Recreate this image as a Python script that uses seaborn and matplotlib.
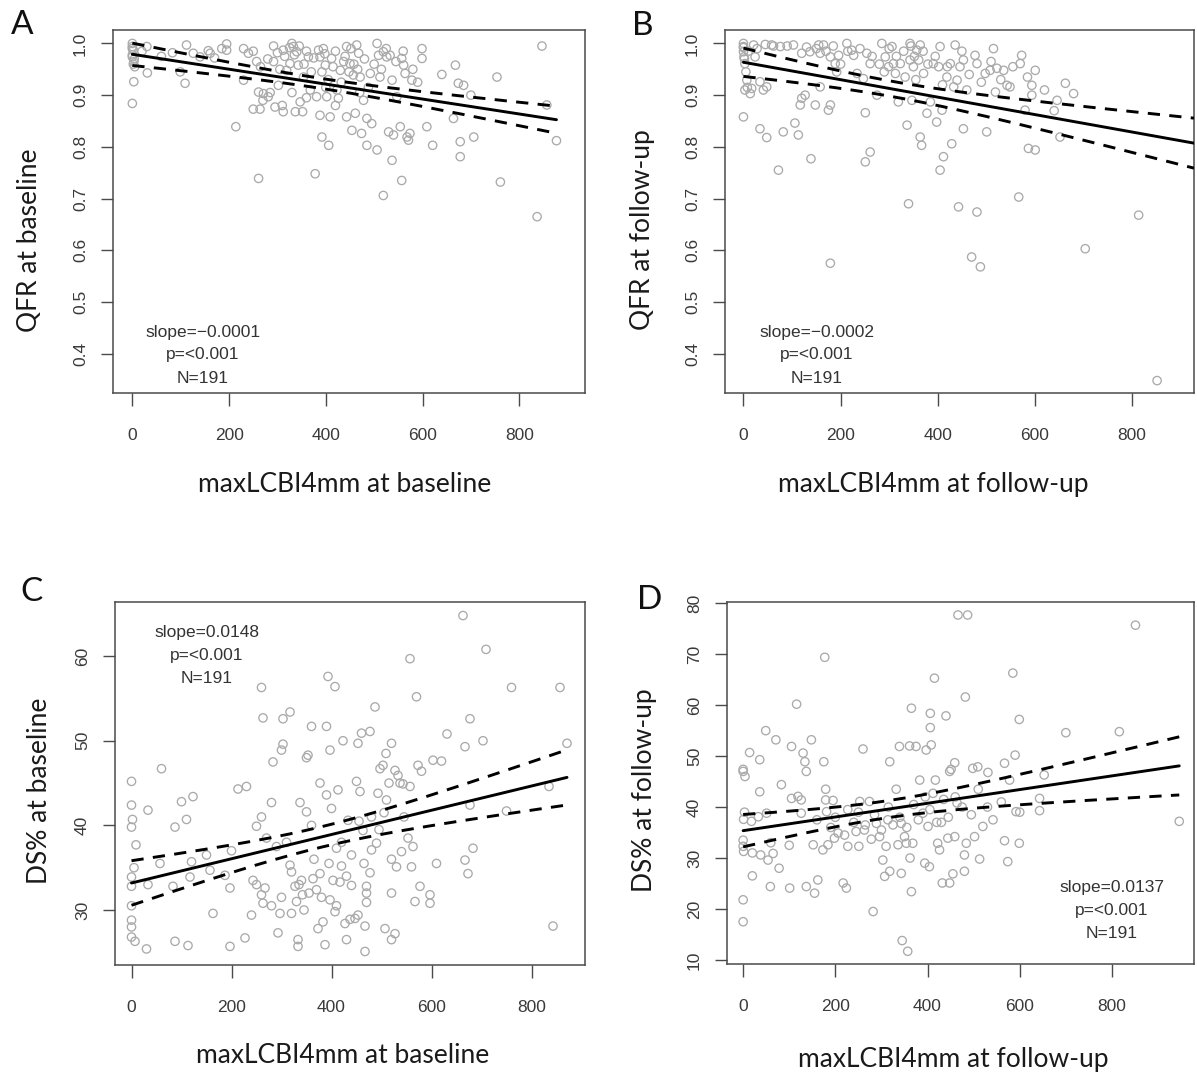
import numpy as np
import matplotlib
matplotlib.use("Agg")
import matplotlib.pyplot as plt
import seaborn as sns

# ---------------- data ----------------
# Panel A: maxLCBI4mm at baseline vs QFR at baseline
a_x = [0, 0, 2, 0, 3, 5, 3, 0, 30, 31, 83, 99, 109, 112, 126, 140, 157, 161, 195, 195,
       214, 230, 230, 240, 257, 261, 250, 264, 261, 271, 281, 292, 292, 295, 302, 312, 312,
       319, 326, 330, 333, 337, 340, 343, 347, 352, 354, 364, 368, 378, 381, 385, 388, 392,
       388, 392, 395, 399, 402, 406, 409, 412, 423, 426, 430, 437, 443, 443, 450, 454, 457,
       461, 464, 468, 471, 474, 478, 485, 485, 492, 495, 506, 506, 509, 512, 519, 519, 526,
       530, 533, 537, 537, 540, 547, 554, 557, 557, 561, 564, 568, 571, 574, 578, 599, 599,
       609, 621, 664, 668, 674, 678, 678, 685, 706, 754, 761, 837, 847, 857, 877,
       # overlapping circles in the dense areas
       0, 0, 4, 2, 20, 60, 170, 185, 250, 265, 280, 300, 305, 315, 325, 335, 345, 355, 360,
       370, 375, 398, 405, 415, 420, 432, 440, 448, 452, 458, 466, 480, 488, 500, 515, 525,
       545, 560, 580, 590, 640, 700, 270, 285, 310, 330, 360, 400, 420, 470]
a_y = [1.000, 0.994, 0.987, 0.974, 0.965, 0.955, 0.926, 0.884, 0.994, 0.943, 0.982, 0.945,
       0.923, 0.997, 0.981, 0.974, 0.986, 0.981, 0.999, 0.987, 0.839, 0.990, 0.929, 0.981,
       0.965, 0.739, 0.873, 0.873, 0.906, 0.903, 0.897, 0.995, 0.965, 0.877, 0.919, 0.987,
       0.868, 0.948, 0.961, 1.000, 0.994, 0.868, 0.984, 0.958, 0.887, 0.868, 0.935, 0.974,
       0.910, 0.748, 0.897, 0.987, 0.974, 0.945, 0.861, 0.819, 0.990, 0.958, 0.897, 0.803,
       0.858, 0.971, 0.910, 0.894, 0.948, 0.965, 0.994, 0.858, 0.961, 0.832, 0.939, 0.865,
       0.997, 0.981, 0.935, 0.826, 0.890, 0.855, 0.803, 0.942, 0.845, 1.000, 0.794, 0.977,
       0.935, 0.706, 0.984, 0.974, 0.829, 0.977, 0.929, 0.774, 0.823, 0.897, 0.839, 0.971,
       0.735, 0.958, 0.942, 0.819, 0.813, 0.826, 0.929, 0.990, 0.971, 0.839, 0.803, 0.855,
       0.958, 0.923, 0.781, 0.810, 0.919, 0.819, 0.935, 0.732, 0.665, 0.995, 0.881, 0.812,
       0.990, 0.978, 0.970, 0.960, 0.985, 0.975, 0.972, 0.990, 0.985, 0.955, 0.970, 0.982,
       0.950, 0.975, 0.992, 0.978, 0.995, 0.960, 0.985, 0.945, 0.972, 0.980, 0.930, 0.955,
       0.985, 0.925, 0.975, 0.945, 0.990, 0.960, 0.950, 0.970, 0.915, 0.960, 0.950, 0.990,
       0.965, 0.985, 0.950, 0.925, 0.940, 0.900, 0.890, 0.905, 0.880, 0.905, 0.895, 0.915,
       0.880, 0.905]

# Panel B: maxLCBI4mm at follow-up vs QFR at follow-up
b_x = [0, 0, 0, 1, 3, 7, 3, 14, 0, 17, 21, 24, 34, 41, 48, 34, 48, 58, 62, 72, 76, 82,
       103, 106, 113, 117, 120, 127, 120, 137, 139, 148, 155, 158, 158, 165, 175, 179, 179,
       179, 189, 196, 192, 213, 223, 227, 234, 247, 251, 251, 261, 254, 261, 275, 285, 292,
       299, 306, 309, 313, 319, 323, 333, 337, 340, 343, 343, 347, 350, 357, 361, 364, 364,
       367, 371, 378, 385, 391, 398, 402, 405, 405, 409, 412, 419, 426, 429, 433, 436, 440,
       443, 446, 453, 453, 460, 470, 477, 481, 481, 488, 498, 501, 508, 515, 519, 522, 536,
       543, 549, 567, 570, 573, 580, 587, 601, 601, 594, 594, 646, 652, 663, 680, 704, 814,
       852,
       0, 2, 5, 8, 10, 28, 45, 90, 130, 150, 170, 185, 200, 215, 240, 265, 280, 290, 300,
       315, 330, 345, 352, 355, 370, 380, 395, 410, 420, 450, 465, 490, 510, 530, 555, 585,
       620, 640]
b_y = [1.000, 0.994, 0.984, 0.974, 0.961, 0.929, 0.910, 0.903, 0.858, 0.913, 0.997, 0.974,
       0.926, 0.910, 0.916, 0.835, 0.818, 0.997, 0.995, 0.755, 0.994, 0.829, 0.997, 0.846,
       0.823, 0.881, 0.894, 0.900, 0.981, 0.984, 0.777, 0.881, 0.997, 0.981, 0.916, 0.997,
       0.871, 0.881, 0.575, 0.974, 0.961, 0.977, 0.945, 1.000, 0.987, 0.977, 0.942, 0.932,
       0.866, 0.771, 0.790, 0.981, 0.961, 0.900, 1.000, 0.974, 0.955, 0.994, 0.961, 0.942,
       0.887, 0.961, 0.935, 0.842, 0.690, 0.968, 1.000, 0.890, 0.955, 0.987, 0.968, 0.997,
       0.819, 0.803, 0.942, 0.865, 0.887, 0.961, 0.848, 0.955, 0.994, 0.755, 0.871, 0.781,
       0.935, 0.961, 0.806, 0.916, 0.997, 0.929, 0.684, 0.955, 0.968, 0.835, 0.910, 0.587,
       0.977, 0.961, 0.674, 0.568, 0.942, 0.829, 0.948, 0.990, 0.906, 0.952, 0.948, 0.919,
       0.916, 0.703, 0.961, 0.977, 0.871, 0.797, 0.948, 0.794, 0.919, 0.900, 0.890, 0.819,
       0.923, 0.903, 0.603, 0.668, 0.348,
       0.992, 0.970, 0.945, 0.915, 0.985, 0.990, 0.998, 0.995, 0.993, 0.990, 0.985, 0.995,
       0.960, 0.985, 0.990, 0.975, 0.960, 0.945, 0.990, 0.975, 0.985, 0.995, 0.975, 0.930,
       0.985, 0.960, 0.975, 0.920, 0.955, 0.985, 0.940, 0.925, 0.965, 0.930, 0.955, 0.935,
       0.910, 0.870]

# Panel C: maxLCBI4mm at baseline vs DS% at baseline
c_x = [0, 0, 2, 0, 9, 0, 0, 0, 0, 0, 7, 30, 33, 33, 57, 60, 83, 87, 87, 100, 110, 113,
       123, 120, 117, 157, 163, 187, 197, 197, 213, 230, 227, 240, 243, 250, 260, 260, 263,
       260, 263, 267, 270, 280, 283, 290, 293, 297, 300, 303, 303, 317, 317, 320, 327, 330,
       333, 333, 337, 340, 342, 350, 350, 353, 360, 363, 370, 373, 377, 377, 383, 387, 390,
       390, 393, 397, 397, 400, 403, 407, 407, 410, 413, 417, 420, 423, 427, 430, 433, 437,
       440, 447, 450, 453, 453, 457, 460, 463, 467, 467, 470, 470, 470, 477, 477, 480, 487,
       490, 493, 497, 503, 507, 509, 510, 520, 520, 520, 527, 527, 530, 533, 537, 540, 543,
       553, 557, 557, 560, 563, 567, 570, 573, 577, 580, 597, 597, 603, 610, 620, 631, 663,
       667, 667, 673, 677, 677, 683, 703, 709, 750, 760, 835, 843, 857, 871,
       5, 0, 250, 280, 300, 320, 335, 345, 355, 365, 380, 395, 410, 420, 430, 440, 455, 465,
       480, 495, 505, 515, 545, 360, 310, 200, 150, 520]
c_y = [45.2, 42.4, 40.7, 39.8, 37.7, 33.9, 32.8, 28.8, 28.0, 26.8, 26.3, 25.4, 41.8, 33.0,
       35.5, 46.7, 32.8, 39.8, 26.3, 42.8, 40.7, 25.8, 43.4, 35.7, 33.9, 34.7, 29.6, 34.1,
       32.6, 25.7, 44.3, 44.6, 26.7, 29.4, 33.5, 39.9, 56.3, 41.0, 52.7, 31.8, 30.8, 32.6,
       38.5, 42.7, 47.5, 37.5, 27.3, 29.6, 48.9, 49.6, 52.6, 53.4, 35.3, 29.6, 32.8, 31.0,
       26.5, 25.7, 42.7, 33.5, 31.8, 41.6, 48.0, 48.3, 51.7, 33.7, 32.4, 27.8, 45.0, 34.3,
       28.6, 25.9, 51.7, 43.6, 57.6, 48.9, 31.2, 42.0, 33.5, 56.4, 29.8, 37.3, 44.2, 33.3,
       35.2, 50.0, 28.4, 26.5, 40.6, 28.9, 32.9, 29.0, 45.2, 49.7, 29.4, 44.0, 50.9, 39.4,
       28.1, 25.1, 32.8, 32.0, 30.9, 51.1, 34.4, 37.1, 54.0, 37.9, 43.8, 46.7, 47.1, 27.8,
       48.5, 43.0, 49.7, 32.0, 26.5, 46.5, 27.2, 35.1, 45.9, 45.0, 36.9, 44.9, 38.5, 59.7,
       44.6, 35.1, 37.5, 31.0, 55.2, 47.1, 32.8, 46.4, 31.8, 30.8, 47.7, 35.5, 47.6, 50.8,
       64.8, 49.3, 35.9, 34.3, 52.6, 42.4, 37.3, 50.0, 60.8, 41.7, 56.3, 44.6, 28.1, 56.3,
       49.7,
       35.0, 30.5, 33.0, 30.5, 31.5, 34.5, 33.0, 30.0, 32.0, 36.0, 31.5, 35.5, 30.5, 38.0,
       34.0, 36.5, 40.5, 35.5, 41.0, 39.5, 41.5, 45.0, 41.0, 40.0, 38.0, 37.0, 36.5, 36.0]

# Panel D: maxLCBI4mm at follow-up vs DS% at follow-up
d_x = [0, 4, 0, 1, 0, 1, 0, 0, 14, 18, 20, 33, 36, 36, 38, 49, 51, 54, 59, 65, 71, 78, 83,
       101, 105, 105, 116, 119, 126, 126, 130, 134, 137, 137, 148, 152, 155, 162, 173, 175,
       177, 179, 179, 181, 184, 195, 198, 206, 217, 224, 227, 227, 245, 253, 251, 260, 263,
       274, 278, 282, 289, 296, 303, 307, 310, 314, 318, 318, 332, 336, 339, 343, 343, 345,
       350, 354, 357, 361, 362, 365, 365, 368, 375, 383, 390, 394, 397, 401, 404, 406, 406,
       408, 412, 415, 417, 422, 426, 430, 432, 440, 444, 448, 448, 451, 455, 459, 459, 464,
       466, 480, 480, 482, 487, 484, 498, 502, 509, 513, 520, 531, 542, 567, 567, 574, 578,
       585, 590, 592, 599, 599, 643, 643, 653, 700, 816, 851, 946,
       0, 3, 20, 60, 100, 160, 190, 200, 220, 240, 250, 265, 285, 300, 315, 325, 340, 355,
       370, 380, 395, 405, 420, 435, 445, 460, 475, 495, 510, 530, 560, 600]
d_y = [47.0, 46.0, 47.4, 37.6, 32.3, 31.3, 21.8, 17.5, 50.7, 37.2, 26.5, 38.1, 43.0, 49.3,
       30.6, 55.0, 38.8, 29.6, 24.4, 30.9, 53.2, 28.0, 44.4, 24.1, 51.9, 41.7, 60.2, 42.1,
       38.8, 41.4, 50.6, 48.9, 47.0, 24.4, 53.2, 32.6, 23.1, 25.7, 31.6, 48.9, 69.4, 43.5,
       41.4, 39.1, 32.6, 41.3, 33.9, 34.9, 25.1, 24.1, 39.5, 32.3, 35.2, 41.1, 32.3, 51.4,
       35.5, 41.1, 33.7, 19.5, 36.8, 34.2, 29.6, 26.4, 32.3, 37.5, 48.9, 27.4, 43.5, 32.6,
       51.9, 36.8, 27.0, 13.8, 34.2, 32.9, 11.7, 52.0, 30.0, 59.4, 23.4, 32.9, 51.9, 45.3,
       38.8, 29.0, 51.2, 36.2, 28.3, 58.4, 55.6, 52.2, 42.7, 65.3, 45.3, 32.9, 31.6, 37.0,
       25.1, 57.9, 33.9, 47.0, 25.1, 47.4, 26.9, 48.7, 34.2, 40.8, 77.7, 30.6, 27.4, 61.6,
       77.7, 32.9, 47.6, 34.2, 47.9, 29.8, 36.2, 46.8, 37.5, 48.6, 33.4, 29.3, 45.3, 66.3,
       50.2, 39.1, 57.2, 32.9, 41.7, 39.3, 46.3, 54.6, 54.8, 75.7, 37.2,
       33.5, 39.0, 31.0, 33.0, 32.5, 37.5, 36.0, 38.0, 34.5, 37.0, 39.0, 36.5, 38.5, 35.5,
       40.0, 36.5, 38.0, 36.0, 40.5, 37.5, 42.0, 39.5, 37.0, 41.5, 38.0, 42.0, 40.0, 38.5,
       43.5, 40.0, 41.0, 39.0]

panel_letters = ["A", "B", "C", "D"]
x_labels = ["maxLCBI4mm at baseline", "maxLCBI4mm at follow-up",
            "maxLCBI4mm at baseline", "maxLCBI4mm at follow-up"]
y_labels = ["QFR at baseline", "QFR at follow-up", "DS% at baseline", "DS% at follow-up"]
slopes_txt = ["slope=\u22120.0001", "slope=\u22120.0002", "slope=0.0148", "slope=0.0137"]
p_txt = "p=<0.001"
n_txt = "N=191"
x_ticks = [0, 200, 400, 600, 800]
qfr_ticks = [0.4, 0.5, 0.6, 0.7, 0.8, 0.9, 1.0]
ds_c_ticks = [30, 40, 50, 60]
ds_d_ticks = [10, 20, 30, 40, 50, 60, 70, 80]

# ---------------- styling / layout ----------------
sns.set_theme(style="white")
plt.rcParams["font.family"] = ["Liberation Sans", "DejaVu Sans"]

W, H = 1197, 1078
fig = plt.figure(figsize=(W / 100, H / 100), dpi=100)

def rect(l, t, r, b):
    return [l / W, 1 - b / H, (r - l) / W, (b - t) / H]

panels = [
    dict(x=a_x, y=a_y, rect=rect(113, 30, 585, 393), xlim=(-40, 936), ylim=(0.324, 1.026),
         yticks=qfr_ticks, ytl=["0.4", "0.5", "0.6", "0.7", "0.8", "0.9", "1.0"],
         text_xy=(0.19, [0.168, 0.105, 0.041]), truncate=True,
         xlab=(0.49, -0.253), ylab=(-0.176, 0.42), letter=(22, 25)),
    dict(x=b_x, y=b_y, rect=rect(725, 30, 1194, 393), xlim=(-38, 928), ylim=(0.324, 1.026),
         yticks=qfr_ticks, ytl=["0.4", "0.5", "0.6", "0.7", "0.8", "0.9", "1.0"],
         text_xy=(0.196, [0.168, 0.105, 0.041]), truncate=False,
         xlab=(0.443, -0.253), ylab=(-0.175, 0.45), letter=(643, 26)),
    dict(x=c_x, y=c_y, rect=rect(115, 602, 585, 965), xlim=(-33, 907), ylim=(23.5, 66.4),
         yticks=ds_c_ticks, ytl=[str(t) for t in ds_c_ticks],
         text_xy=(0.196, [0.915, 0.852, 0.789]), truncate=True,
         xlab=(0.485, -0.248), ylab=(-0.16, 0.48), letter=(31, 592)),
    dict(x=d_x, y=d_y, rect=rect(727, 602, 1194, 964), xlim=(-35, 978), ylim=(9.2, 80.25),
         yticks=ds_d_ticks, ytl=[str(t) for t in ds_d_ticks],
         text_xy=(0.824, [0.212, 0.149, 0.085]), truncate=True,
         xlab=(0.484, -0.264), ylab=(-0.176, 0.48), letter=(650, 600)),
]

label_font = ["Lato", "DejaVu Sans"]
spine_col = "#4a4a4a"

for i, p in enumerate(panels):
    ax = fig.add_axes(p["rect"])
    ax.set_xlim(*p["xlim"])
    ax.set_ylim(*p["ylim"])
    x = np.asarray(p["x"], float)
    y = np.asarray(p["y"], float)

    # points
    sns.scatterplot(x=x, y=y, ax=ax, marker="o", s=36, color="#aaaaaa",
                    facecolors="none", edgecolors="#aaaaaa", linewidth=0.95, zorder=2)

    # OLS fit with 95% confidence band
    n = len(x)
    slope, intercept = np.polyfit(x, y, 1)
    resid = y - (intercept + slope * x)
    s = np.sqrt(np.sum(resid ** 2) / (n - 2))
    xbar = x.mean()
    sxx = np.sum((x - xbar) ** 2)
    x_end = x.max() if p["truncate"] else p["xlim"][1]
    xs = np.linspace(x.min(), x_end, 200)
    fit = intercept + slope * xs
    se = s * np.sqrt(1.0 / n + (xs - xbar) ** 2 / sxx)
    tval = 1.972
    sns.lineplot(x=xs, y=fit, ax=ax, color="black", lw=2.1, zorder=3)
    ax.plot(xs, fit + tval * se, color="black", lw=2.1, ls=(0, (4.2, 3.2)), zorder=3)
    ax.plot(xs, fit - tval * se, color="black", lw=2.1, ls=(0, (4.2, 3.2)), zorder=3)

    # ticks
    ax.set_xticks(x_ticks)
    ax.set_xticklabels([str(t) for t in x_ticks])
    ax.set_yticks(p["yticks"])
    ax.set_yticklabels(p["ytl"], rotation=90, va="center")
    ax.tick_params(axis="both", which="major", direction="out", length=9, width=1.0,
                   color=spine_col, labelsize=12.5, labelcolor="#3a3a3a")
    ax.tick_params(axis="x", pad=16)
    ax.tick_params(axis="y", pad=9)
    ax.tick_params(bottom=True, left=True)

    for sp in ax.spines.values():
        sp.set_visible(True)
        sp.set_color(spine_col)
        sp.set_linewidth(1.1)

    # labels
    ax.set_xlabel(x_labels[i], fontsize=19, family=label_font, color="#1a1a1a", va="center")
    ax.xaxis.set_label_coords(*p["xlab"])
    ax.set_ylabel(y_labels[i], fontsize=19, family=label_font, color="#1a1a1a", va="center")
    ax.yaxis.set_label_coords(*p["ylab"])

    # annotation
    tx, tys = p["text_xy"]
    for txt, ty in zip([slopes_txt[i], p_txt, n_txt], tys):
        ax.text(tx, ty, txt, transform=ax.transAxes, ha="center", va="center",
                fontsize=12.5, color="#333333", zorder=4)

    lx, ly = p["letter"]
    fig.text(lx / W, 1 - ly / H, panel_letters[i], fontsize=24, family=label_font,
             color="#111111", ha="center", va="center")

fig.savefig("out.png", dpi=100, facecolor="white")
